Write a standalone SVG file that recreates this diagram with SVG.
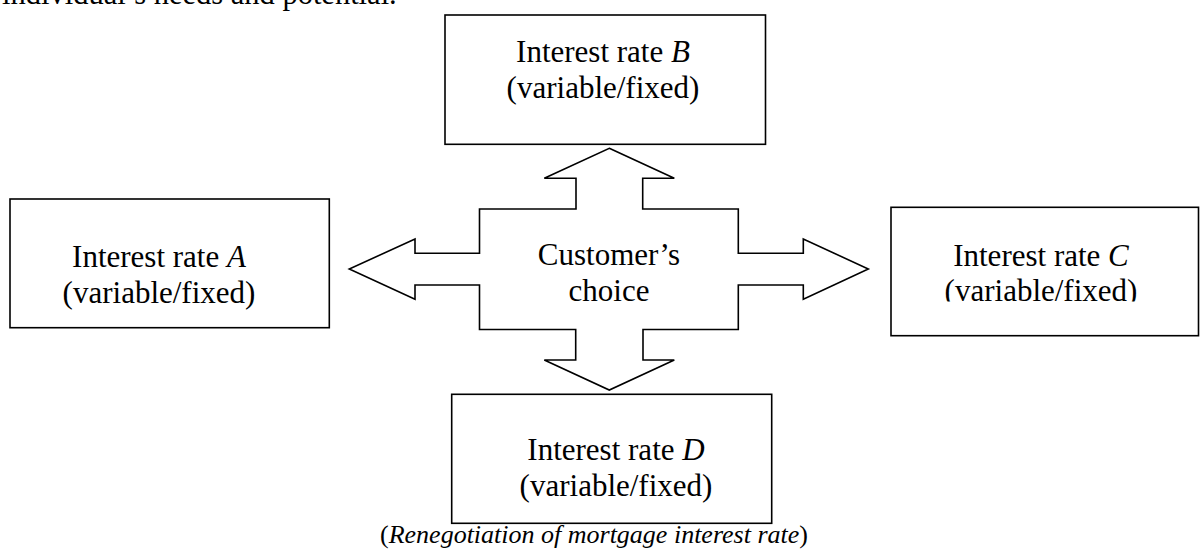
<svg xmlns="http://www.w3.org/2000/svg" width="1200" height="551" viewBox="0 0 1200 551">
  <style>
    .box { fill: #ffffff; stroke: #000000; stroke-width: 1.6; }
    .cross { fill: #ffffff; stroke: #000000; stroke-width: 1.6; stroke-linejoin: miter; }
    .lbl { font-family: "Liberation Serif", "Times New Roman", serif; font-size: 31px; fill: #000000; text-anchor: middle; }
    .it { font-style: italic; }
    .cap { font-family: "Liberation Serif", "Times New Roman", serif; font-size: 26px; fill: #000000; text-anchor: middle; }
  </style>
  <defs>
    <clipPath id="clipC">
      <rect x="880" y="200" width="318" height="101.5"/>
    </clipPath>
  </defs>
  <rect width="1200" height="551" fill="#ffffff"/>

  <!-- tail of the preceding paragraph line -->
  <text x="2" y="4" font-family="Liberation Serif, serif" font-size="30.5" fill="#000000">individual’s needs and potential.</text>

  <!-- central four-way arrow -->
  <g id="connectors">
    <polygon class="cross" points="609.3,148.3 674.3,178.3 642.7,178.3 642.7,209 738.3,209 738.3,253.3 803.3,253.3 803.3,239 868.3,269 803.3,299.3 803.3,285 738.3,285 738.3,329.5 643,329.5 643,360 674.3,360 609.3,390 544.3,360 575.7,360 575.7,329.5 479.5,329.5 479.5,285 415,285 415,299.3 349.3,269 415,239 415,253.3 479.5,253.3 479.5,209 576,209 576,178.3 544.3,178.3"/>
  </g>

  <g id="choice">
    <text class="lbl" x="609" y="265">Customer’s</text>
    <text class="lbl" x="609" y="300.7">choice</text>
  </g>

  <g id="rate-a">
    <rect class="box" x="10" y="199" width="319.3" height="128.7"/>
    <text class="lbl" x="159" y="267.3">Interest rate <tspan class="it">A</tspan></text>
    <text class="lbl" x="159" y="303">(variable/fixed)</text>
  </g>

  <g id="rate-b">
    <rect class="box" x="445" y="15" width="320.5" height="129.3"/>
    <text class="lbl" x="603" y="62.3">Interest rate <tspan class="it">B</tspan></text>
    <text class="lbl" x="603" y="97.5">(variable/fixed)</text>
  </g>

  <g id="rate-c">
    <rect class="box" x="891" y="207.3" width="307.5" height="128.4"/>
    <g clip-path="url(#clipC)">
      <text class="lbl" x="1041" y="265.7">Interest rate <tspan class="it">C</tspan></text>
      <text class="lbl" x="1041" y="301">(variable/fixed)</text>
    </g>
  </g>

  <g id="rate-d">
    <rect class="box" x="451.7" y="394.3" width="320" height="129"/>
    <text class="lbl" x="616" y="460">Interest rate <tspan class="it">D</tspan></text>
    <text class="lbl" x="616" y="495.5">(variable/fixed)</text>
  </g>

  <g id="caption">
    <text class="cap" x="594" y="543">(<tspan class="it">Renegotiation of mortgage interest rate</tspan>)</text>
  </g>
</svg>
